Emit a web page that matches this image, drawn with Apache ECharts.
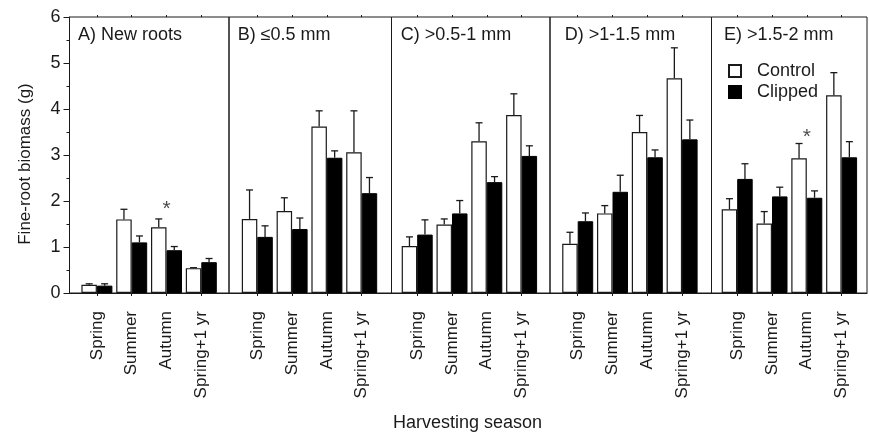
<!DOCTYPE html>
<html><head><meta charset="utf-8">
<script src="https://cdn.jsdelivr.net/npm/echarts@6/dist/echarts.min.js"></script>
<style>html,body{margin:0;padding:0;background:#fff}#c{width:869px;height:434px}</style>
</head><body><div id="c"></div>
<script>
// ---- data ----
const seasons = ['Spring', 'Summer', 'Autumn', 'Spring+1 yr'];
const panelTitles = ['A) New roots', 'B) \u22640.5 mm', 'C) >0.5-1 mm', 'D) >1-1.5 mm', 'E) >1.5-2 mm'];
const controlMean = [
  [0.18, 1.60, 1.43, 0.54],
  [1.61, 1.78, 3.62, 3.06],
  [1.02, 1.49, 3.30, 3.87],
  [1.07, 1.73, 3.50, 4.67],
  [1.82, 1.51, 2.93, 4.30]
];
const controlSE = [
  [0.02, 0.22, 0.18, 0.01],
  [0.63, 0.29, 0.34, 0.90],
  [0.20, 0.12, 0.40, 0.46],
  [0.25, 0.17, 0.36, 0.66],
  [0.23, 0.26, 0.32, 0.49]
];
const clippedMean = [
  [0.16, 1.10, 0.93, 0.67],
  [1.22, 1.39, 2.94, 2.17],
  [1.27, 1.73, 2.41, 2.98],
  [1.56, 2.20, 2.95, 3.34],
  [2.48, 2.10, 2.07, 2.95]
];
const clippedSE = [
  [0.04, 0.14, 0.08, 0.08],
  [0.24, 0.24, 0.15, 0.34],
  [0.32, 0.28, 0.12, 0.22],
  [0.18, 0.36, 0.16, 0.42],
  [0.33, 0.20, 0.15, 0.34]
];
const sigPanel = [0, 4];
const sigSeason = [2, 2];
const sigLevel = [1.82, 3.39];
const yTicks = [0, 1, 2, 3, 4, 5, 6];

// ---- layout (pixels) ----
const panelLeft  = [69.5, 229, 391.5, 550, 711.5];
const panelRight = [229, 391.5, 550, 711.5, 867];
const firstTick  = [96.9, 257.3, 417.2, 577.7, 737.2];
const tickStep = 34.8;
const titleLeft = [78, 237.7, 400.7, 564.7, 724];
const plotTop = 17, plotBottom = 293;
const FONT = 'Liberation Sans, Arial, sans-serif';
const INK = '#1a1a1a';
const BARW = 15.5;

const grids = [], xAxes = [], yAxes = [], series = [], titles = [];
const catIdx = seasons.map((s, j) => j);

function errRender(offset) {
  return function (params, api) {
    const x = api.value(0), m = api.value(1), t = api.value(2);
    const p0 = api.coord([x, m]), p1 = api.coord([x, t]);
    const cx = p0[0] + offset;
    return {
      type: 'group', children: [
        {type: 'line', shape: {x1: cx, y1: p0[1], x2: cx, y2: p1[1]}, style: {stroke: INK, lineWidth: 1.3}},
        {type: 'line', shape: {x1: cx - 3.5, y1: p1[1], x2: cx + 3.5, y2: p1[1]}, style: {stroke: INK, lineWidth: 1.3}}
      ]
    };
  };
}

for (let i = 0; i < 5; i++) {
  const L = panelLeft[i], R = panelRight[i];
  grids.push({left: L, top: plotTop, width: R - L, height: plotBottom - plotTop,
    show: true, borderColor: INK, borderWidth: 1, backgroundColor: 'transparent', containLabel: false});
  const xmin = -(firstTick[i] - L) / tickStep;
  const xmax = (R - firstTick[i]) / tickStep;
  xAxes.push({
    type: 'value', gridIndex: i, position: 'bottom', min: xmin, max: xmax,
    axisLine: {show: true, onZero: false, lineStyle: {color: INK, width: 1}},
    axisTick: {show: true, customValues: catIdx, length: 3, lineStyle: {color: INK}},
    axisLabel: {show: true, customValues: catIdx, rotate: 90, margin: 18,
      formatter: v => seasons[Math.round(v)] || '', fontSize: 17, fontFamily: FONT, color: INK},
    splitLine: {show: false}
  });
  xAxes.push({
    type: 'value', gridIndex: i, position: 'top', min: xmin, max: xmax,
    axisLine: {show: false, onZero: false},
    axisTick: {show: true, customValues: catIdx, length: 2, lineStyle: {color: INK}},
    axisLabel: {show: false}, splitLine: {show: false}
  });
  if (i === 0) {
    yAxes.push({
      type: 'value', gridIndex: 0, min: 0, max: 6, interval: 1, position: 'left',
      name: 'Fine-root biomass (g)', nameLocation: 'middle', nameGap: 36,
      nameTextStyle: {fontSize: 17, fontFamily: FONT, color: INK, padding: [0, 18, 0, 0]},
      axisLine: {show: true, onZero: false, lineStyle: {color: INK}},
      axisTick: {show: true, length: 6, lineStyle: {color: INK}},
      minorTick: {show: true, splitNumber: 2, length: 3, lineStyle: {color: INK}},
      axisLabel: {margin: 9, fontSize: 18, fontFamily: FONT, color: INK,
        formatter: v => yTicks.includes(v) ? String(v) : ''},
      splitLine: {show: false}
    });
  } else {
    yAxes.push({type: 'value', gridIndex: i, min: 0, max: 6, interval: 1, show: false,
      axisLine: {onZero: false}, splitLine: {show: false}});
  }
  titles.push({text: panelTitles[i], left: titleLeft[i], top: 26, padding: 0,
    textStyle: {fontSize: 18, fontWeight: 'normal', fontFamily: FONT, color: INK}});

  series.push({
    name: 'Control', type: 'bar', xAxisIndex: 2 * i, yAxisIndex: i,
    data: catIdx.map(j => [j, controlMean[i][j]]),
    barWidth: BARW, barGap: '0%',
    itemStyle: {color: '#ffffff', borderColor: INK, borderWidth: 1.2}, z: 2
  });
  series.push({
    name: 'Clipped', type: 'bar', xAxisIndex: 2 * i, yAxisIndex: i,
    data: catIdx.map(j => [j, clippedMean[i][j]]),
    barWidth: BARW, barGap: '0%',
    itemStyle: {color: '#000000', borderColor: '#000000', borderWidth: 1}, z: 2
  });
  series.push({
    type: 'custom', xAxisIndex: 2 * i, yAxisIndex: i, z: 3, silent: true,
    renderItem: errRender(-BARW / 2),
    data: catIdx.map(j => [j, controlMean[i][j], controlMean[i][j] + controlSE[i][j]])
  });
  series.push({
    type: 'custom', xAxisIndex: 2 * i, yAxisIndex: i, z: 3, silent: true,
    renderItem: errRender(BARW / 2),
    data: catIdx.map(j => [j, clippedMean[i][j], clippedMean[i][j] + clippedSE[i][j]])
  });
}

for (let k = 0; k < sigPanel.length; k++) {
  const i = sigPanel[k];
  series.push({
    type: 'scatter', xAxisIndex: 2 * i, yAxisIndex: i, symbolSize: 0, silent: true, z: 4,
    data: [[sigSeason[k], sigLevel[k]]],
    label: {show: true, position: 'inside', formatter: '*', fontSize: 21, fontFamily: FONT, color: INK}
  });
}

titles.push({text: 'Harvesting season', left: 393, top: 414, padding: 0,
  textStyle: {fontSize: 18, fontWeight: 'normal', fontFamily: FONT, color: INK}});

const chart = echarts.init(document.getElementById('c'), null, {renderer: 'canvas'});
chart.setOption({
  animation: false,
  backgroundColor: '#ffffff',
  title: titles,
  legend: {
    data: ['Control', 'Clipped'], orient: 'vertical', left: 728, top: 62,
    icon: 'rect', itemWidth: 12, itemHeight: 12, itemGap: 3, padding: 0,
    textStyle: {fontSize: 18, fontFamily: FONT, color: INK, padding: [0, 0, 0, 11], lineHeight: 15}
  },
  grid: grids, xAxis: xAxes, yAxis: yAxes, series: series
});
</script></body></html>
